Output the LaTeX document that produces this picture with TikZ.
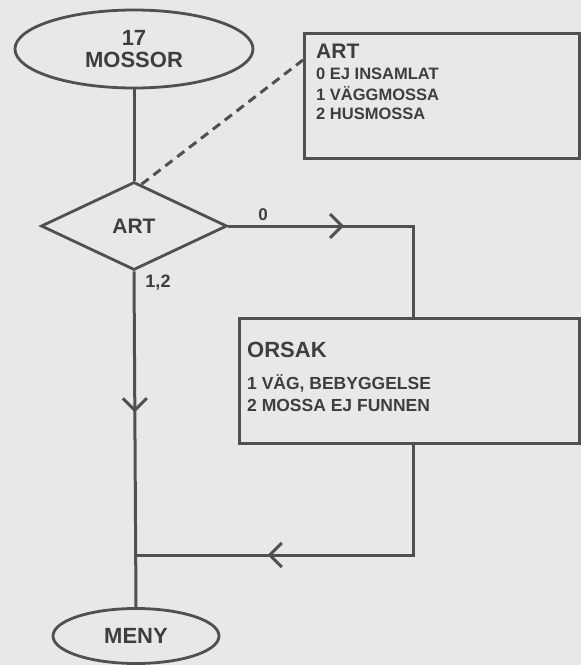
\documentclass[tikz,border=0pt]{standalone}
\usepackage{fontspec}
\setmainfont{Liberation Sans}
\usetikzlibrary{shapes.geometric,arrows.meta,decorations.markings,calc}
\definecolor{bgc}{HTML}{E8E8E8}
\definecolor{inkc}{HTML}{505050}
\definecolor{txtc}{HTML}{3E3E3E}
\begin{document}
\begin{tikzpicture}[x=1pt,y=-1pt,
  ink/.style={draw=inkc, line width=3pt},
  boxst/.style={draw=inkc, line width=2.6pt, rectangle, inner sep=0pt, fill=bgc},
  term/.style={draw=inkc, line width=2.8pt, ellipse, inner sep=0pt, text=txtc, font=\bfseries\fontsize{22}{23}\selectfont},
  txt/.style={text=txtc, inner sep=0pt, anchor=west},
  midarrow/.style={postaction={decorate}, decoration={markings, mark=at position #1 with {\arrow{Straight Barb[length=12pt,width=24pt]}}}},
]
\useasboundingbox (0,0) rectangle (581,665);
\fill[bgc] (0,0) rectangle (581,665);

% terminals
\node[term, minimum width=238pt, minimum height=78pt, align=center] (start) at (134,49) {17\\[-1pt]MOSSOR};
\node[term, minimum width=166pt, minimum height=55pt] (meny) at (136,636) {MENY};

% decision
\node[diamond, draw=inkc, line width=2.8pt, minimum width=186pt, minimum height=88pt, inner sep=0pt, text=txtc, font=\bfseries\fontsize{21}{22}\selectfont] (art) at (134,226) {ART};

% ART info box
\node[boxst, minimum width=275pt, minimum height=125pt, anchor=north west] (artbox) at (303,32) {};
\node[txt, font=\bfseries\fontsize{21}{22}\selectfont] (arth) at (316,51) {ART};
\node[txt, font=\bfseries\fontsize{16.5}{17}\selectfont] (art0) at (316,74) {0 EJ INSAMLAT};
\node[txt, font=\bfseries\fontsize{16.5}{17}\selectfont] (art1) at (316,94) {1 VÄGGMOSSA};
\node[txt, font=\bfseries\fontsize{16.5}{17}\selectfont] (art2) at (316,114) {2 HUSMOSSA};

% ORSAK box
\node[boxst, minimum width=340pt, minimum height=125pt, anchor=north west] (orsak) at (238,317) {};
\node[txt, font=\bfseries\fontsize{22}{23}\selectfont] (orsh) at (247,350) {ORSAK};
\node[txt, font=\bfseries\fontsize{17.5}{18}\selectfont] (ors1) at (247,383) {1 VÄG, BEBYGGELSE};
\node[txt, font=\bfseries\fontsize{17.5}{18}\selectfont] (ors2) at (247,405) {2 MOSSA EJ FUNNEN};

% connectors
\coordinate (c0) at (413,226);
\coordinate (c1) at (413,555);
\coordinate (j) at (136,555);
\draw[ink] (start.south) -- (art.north);
\draw[ink, midarrow=0.42] (art.south) -- (meny.north);
\draw[ink, midarrow=0.42] (art.east) -- (c0) -- (c0 |- orsak.north);
\draw[ink, midarrow=0.66] (c0 |- orsak.south) -- (c1) -- (j);
\draw[draw=inkc, line width=3pt, dash pattern=on 9pt off 6pt] ($(art.north)!0.08!(art.east)$) -- ($(artbox.north west)+(0,28)$);

% labels
\node[txt, anchor=center, font=\bfseries\fontsize{17}{18}\selectfont] (l0) at (263,215) {0};
\node[txt, anchor=center, font=\bfseries\fontsize{18}{19}\selectfont] (l12) at (158,283) {1,2};
\end{tikzpicture}
\end{document}
